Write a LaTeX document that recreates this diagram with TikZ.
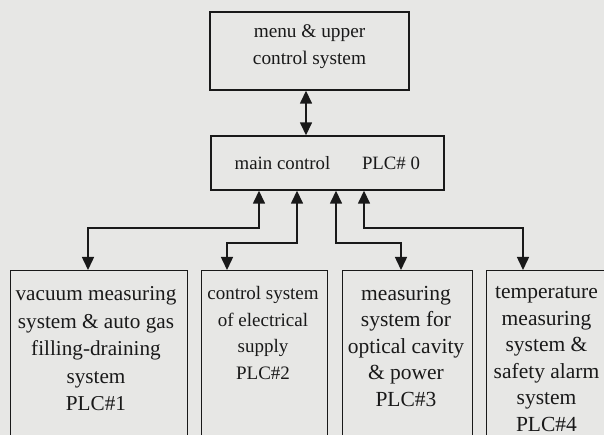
\documentclass[tikz,border=0pt]{standalone}
\usepackage{fontspec}
\setmainfont{Liberation Serif}
\usetikzlibrary{arrows.meta}
\definecolor{bgc}{RGB}{231,231,229}
\definecolor{ink}{RGB}{25,25,25}
\tikzset{
  box/.style={draw=ink, line width=1.4pt, rectangle, inner sep=0pt},
  txt/.style={text=ink, align=center, inner sep=0pt},
  conn/.style={draw=ink, line width=1.5pt, {Triangle[length=13pt,width=12pt]}-{Triangle[length=13pt,width=12pt]}},
}
\begin{document}
\begin{tikzpicture}[x=1pt,y=-1pt]
\useasboundingbox (0,0) rectangle (604,435);
\fill[bgc] (0,0) rectangle (604,435);
\clip (0,0) rectangle (604,435);
% boxes
\node[box, minimum width=199pt, minimum height=78pt] (top) at (309.5,51) {};
\node[box, minimum width=233pt, minimum height=54pt] (main) at (327.5,163) {};
\node[box, minimum width=177pt, minimum height=200pt, anchor=north west] (b1) at (10,270) {};
\node[box, minimum width=126pt, minimum height=200pt, anchor=north west] (b2) at (201,270) {};
\node[box, minimum width=130pt, minimum height=200pt, anchor=north west] (b3) at (342,270) {};
\node[box, minimum width=122pt, minimum height=200pt, anchor=north west] (b4) at (486,270) {};
% texts
\node[txt, font=\fontsize{19.3}{27}\selectfont] (ttop) at (309.5,47) {menu \& upper\\control system};
\node[txt, font=\fontsize{18.8}{27}\selectfont] (tmain1) at (282.5,163) {main control};
\node[txt, font=\fontsize{18.8}{27}\selectfont] (tmain2) at (391,163) {PLC\# 0};
\node[txt, font=\fontsize{21.2}{27.5}\selectfont] (t1) at (96,349) {vacuum measuring\\system \& auto gas\\filling-draining\\system\\PLC\#1};
\node[txt, font=\fontsize{19}{26.5}\selectfont] (t2) at (263,333) {control system\\of electrical\\supply\\PLC\#2};
\node[txt, font=\fontsize{21.5}{26.5}\selectfont] (t3) at (406,346) {measuring\\system for\\optical cavity\\\& power\\PLC\#3};
\node[txt, font=\fontsize{21.5}{26.5}\selectfont] (t4) at (546.5,359) {temperature\\measuring\\system \&\\safety alarm\\system\\PLC\#4};
% connector coordinates
\coordinate (x0) at (306,0);
\coordinate (x1) at (259,0);
\coordinate (x2) at (297,0);
\coordinate (x3) at (336,0);
\coordinate (x4) at (364,0);
\coordinate (y1) at (88,228);
\coordinate (y2) at (227,243);
\coordinate (y3) at (401,243);
\coordinate (y4) at (523,228);
% connectors
\draw[conn] (top.south -| x0) -- (main.north -| x0);
\draw[conn] (main.south -| x1) |- (y1) -- (b1.north -| y1);
\draw[conn] (main.south -| x2) |- (y2) -- (b2.north -| y2);
\draw[conn] (main.south -| x3) |- (y3) -- (b3.north -| y3);
\draw[conn] (main.south -| x4) |- (y4) -- (b4.north -| y4);
\end{tikzpicture}
\end{document}
